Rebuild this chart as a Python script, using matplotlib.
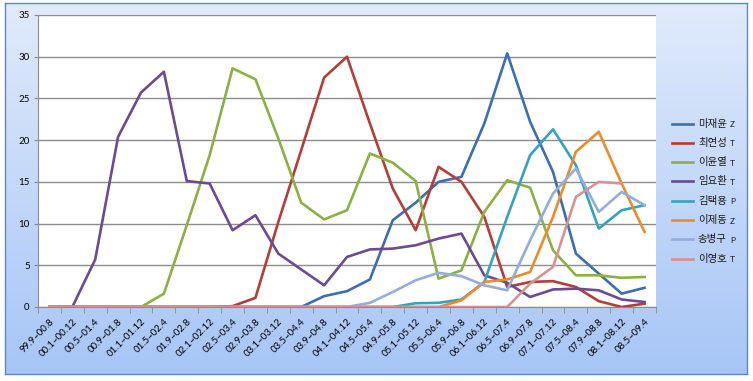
import numpy as np
import matplotlib.pyplot as plt
from matplotlib.lines import Line2D

nan = np.nan

# period labels on the x axis
periods = ['99.9~00.8', '00.1~00.12', '00.5~01.4', '00.9~01.8', '01.1~01.12',
           '01.5~02.4', '01.9~02.8', '02.1~02.12', '02.5~03.4', '02.9~03.8',
           '03.1~03.12', '03.5~04.4', '03.9~04.8', '04.1~04.12', '04.5~05.4',
           '04.9~05.8', '05.1~05.12', '05.5~06.4', '05.9~06.8', '06.1~06.12',
           '06.5~07.4', '06.9~07.8', '07.1~07.12', '07.5~08.4', '07.9~08.8',
           '08.1~08.12', '08.5~09.4']

# one list per player
majaeyun = [0]*12 + [1.3, 1.9, 3.3, 10.4, 12.5, 15.0, 15.6, 22.0, 30.4, 22.2,
                     16.2, 6.4, 4.0, 1.6, 2.3]
choiyeonsung = [0, 0, 0, 0, 0, 0, 0, 0, 0.1, 1.1, 10.2, 18.8, 27.5, 30.0, 22.0,
                14.2, 9.2, 16.8, 15.0, 10.8, 2.4, 3.0, 3.1, 2.4, 0.7, 0.0, 0.4]
leeyunyeol = [0, 0, 0, 0, 0, 1.6, 9.8, 18.2, 28.6, 27.3, 20.2, 12.5, 10.5, 11.6,
              18.4, 17.3, 15.1, 3.4, 4.4, 11.4, 15.2, 14.3, 6.8, 3.8, 3.8, 3.5, 3.6]
limyohwan = [0, 0, 5.7, 20.4, 25.7, 28.2, 15.1, 14.8, 9.2, 11.0, 6.4, 4.5, 2.6,
             6.0, 6.9, 7.0, 7.4, 8.2, 8.8, 3.8, 2.9, 1.2, 2.1, 2.2, 2.0, 0.9, 0.6]
kimtaekyong = [0]*16 + [0.45, 0.5, 0.9, 3.0, 10.8, 18.2, 21.3, 17.0, 9.4, 11.6, 12.2]
leejaedong = [0]*18 + [0.8, 3.0, 3.3, 4.2, 10.8, 18.6, 21.0, 14.8, 9.0]
songbyunggu = [0]*14 + [0.5, 1.8, 3.2, 4.1, 3.7, 2.6, 2.0, 8.0, 13.6, 16.6,
                        11.4, 13.8, 12.2]
leeyoungho = [0]*21 + [2.8, 4.8, 13.2, 15.0, 14.8, nan]

names = ['마재윤', '최연성', '이윤열', '임요환', '김택용', '이제동', '송병구', '이영호']
races = ['Z', 'T', 'T', 'T', 'P', 'Z', 'P', 'T']
series = [majaeyun, choiyeonsung, leeyunyeol, limyohwan, kimtaekyong,
          leejaedong, songbyunggu, leeyoungho]
colors = ['#3D6EB0', '#B43D38', '#8CB043', '#6B4B92', '#35A3BD', '#EF8A2C',
          '#93AEDA', '#D79391']

W, H = 753, 381
fig = plt.figure(figsize=(W/100, H/100), dpi=100)

# chart area with vertical gradient
bg = fig.add_axes([5/W, 1 - 374/H, 742/W, 371/H])
grad = np.linspace(0, 1, 256).reshape(-1, 1)
top = np.array([0.88, 0.92, 0.985])
bot = np.array([0.655, 0.775, 0.965])
img = top + (bot - top) * grad[:, :, None]
bg.imshow(img, aspect='auto', extent=[0, 1, 0, 1])
bg.set_xticks([])
bg.set_yticks([])
for s in bg.spines.values():
    s.set_color('#5F86C0')
    s.set_linewidth(1.0)

ax = fig.add_axes([38/W, 1 - 307/H, 618/W, 292/H])
ax.set_facecolor('white')
x = np.arange(len(periods))
for vals, c in zip(series, colors):
    ax.plot(x, vals, color=c, lw=1.9, solid_joinstyle='round')

ax.set_xlim(-0.5, len(periods) - 0.5)
ax.set_ylim(0, 35)
ax.set_yticks(range(0, 36, 5))
ax.yaxis.grid(True, color='#8C8C8C', lw=1.0)
ax.set_axisbelow(True)
ax.tick_params(axis='y', length=3, color='#8C8C8C', labelsize=7, pad=3)
ax.set_xticks(x)
ax.set_xticklabels(periods, rotation=45, ha='right', va='top',
                   rotation_mode='anchor', fontsize=7)
ax.tick_params(axis='x', length=0, pad=7)
ax.set_xticks(np.arange(-0.5, len(periods)), minor=True)
ax.tick_params(axis='x', which='minor', length=4, color='#8C8C8C')
for lab in ax.get_xticklabels() + ax.get_yticklabels():
    lab.set_family(['Lato', 'DejaVu Sans'])
for side in ['top', 'right']:
    ax.spines[side].set_visible(False)
for side in ['left', 'bottom']:
    ax.spines[side].set_color('#8C8C8C')

# legend drawn by hand so the race letter can be smaller
renderer = fig.canvas.get_renderer()
y0 = 123.5
step = 19.3
for k, (nm, rc, c) in enumerate(zip(names, races, colors)):
    yy = 1 - (y0 + k*step)/H
    fig.add_artist(Line2D([672/W, 693/W], [yy, yy], color=c, lw=1.9,
                          transform=fig.transFigure))
    t = fig.text(698/W, yy, nm, fontsize=7.5, va='center', ha='left',
                 family=['Noto Sans CJK KR', 'DejaVu Sans'], color='#1A1A1A')
    x1 = t.get_window_extent(renderer).x1
    fig.text((x1 + 3)/W, yy - 1/H, rc, fontsize=6, va='center', ha='left',
             family=['Lato', 'DejaVu Sans'], color='#1A1A1A')

fig.savefig('out.png', dpi=100)
